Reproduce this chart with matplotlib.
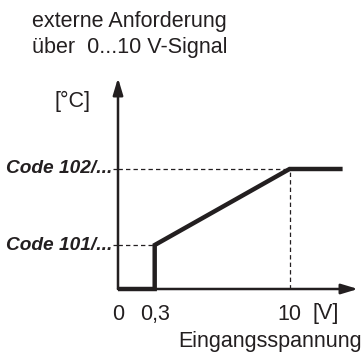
import numpy as np
import matplotlib.pyplot as plt

# characteristic: input voltage [V] -> set temperature level
volts = [0, 0.3, 0.3, 10, 13.1]
level = [0, 0, 1.0, 2.73, 2.73]
tick_pos = [0, 0.3, 10]
tick_lbl = ["0", "0,3", "10"]
code_levels = [1.0, 2.73]
code_lbl = ["Code 101/...", "Code 102/..."]

# schematic voltage axis: the 0...0.3 V range is stretched
xp = [0, 0.3, 10, 14]
fp = [0, 37, 173, 242]
fwd = lambda x: np.interp(x, xp, fp)
inv = lambda x: np.interp(x, fp, xp)

fig = plt.figure(figsize=(3.63, 3.54), dpi=100)
W, H = 363, 354
ax = fig.add_axes([118 / W, (H - 289) / H, 240 / W, 211 / H])
ax.set_xscale("function", functions=(fwd, inv))
ax.set_xlim(0, 14)
ax.set_ylim(0, 4.8)

for s in ax.spines.values():
    s.set_visible(False)

# axes with arrow heads
arrow = dict(arrowstyle="-|>,head_length=1.0,head_width=0.3", lw=1.8, color="#231f20",
             shrinkA=0, shrinkB=0)
ax.annotate("", xy=(1, 0), xytext=(0, 0), xycoords="axes fraction", arrowprops=arrow)
ax.annotate("", xy=(0, 1), xytext=(0, 0), xycoords="axes fraction", arrowprops=arrow)

# dashed helper lines
dash = dict(color="#231f20", lw=0.9, ls=(0, (3.5, 2.5)))
ax.plot([-0.02, 0], [code_levels[1]] * 2, transform=ax.get_yaxis_transform(), clip_on=False, **dash)
ax.plot([0, 10], [code_levels[1]] * 2, **dash)
ax.plot([-0.02, 0], [code_levels[0]] * 2, transform=ax.get_yaxis_transform(), clip_on=False, **dash)
ax.plot([0, 0.3], [code_levels[0]] * 2, **dash)
ax.plot([10, 10], [0, code_levels[1]], **dash)

ax.plot(volts, level, color="#231f20", lw=3.2, solid_joinstyle="miter",
        solid_capstyle="butt", clip_on=False)

ax.set_yticks([])
ax.set_xticks(tick_pos, tick_lbl, fontsize=15.5, family="Liberation Sans")
ax.set_xticks([0.3], minor=True)
ax.tick_params(axis="x", which="major", length=0, pad=11, colors="#231f20")
ax.tick_params(axis="x", which="minor", length=3, width=1, color="#231f20")

for y, t in zip(code_levels, code_lbl):
    ax.text(-0.022, y, t, transform=ax.get_yaxis_transform(), ha="right", va="center",
            fontsize=13.8, fontweight="bold", fontstyle="italic",
            family="Liberation Sans", color="#231f20")

txt = dict(family="Liberation Sans", fontsize=15.5, color="#231f20")
fig.text(32 / W, 1 - 21 / H, "externe Anforderung", va="center", ha="left", **txt)
fig.text(32 / W, 1 - 48 / H, "über  0...10 V-Signal", va="center", ha="left", **txt)
fig.text(72 / W, 1 - 101 / H, "[°C]", va="center", ha="center", **txt)
fig.text(326 / W, 1 - 313 / H, "[V]", va="center", ha="center", **txt)
fig.text(362 / W, 1 - 342 / H, "Eingangsspannung", va="center", ha="right", **txt)

fig.savefig("out.png", dpi=100)
